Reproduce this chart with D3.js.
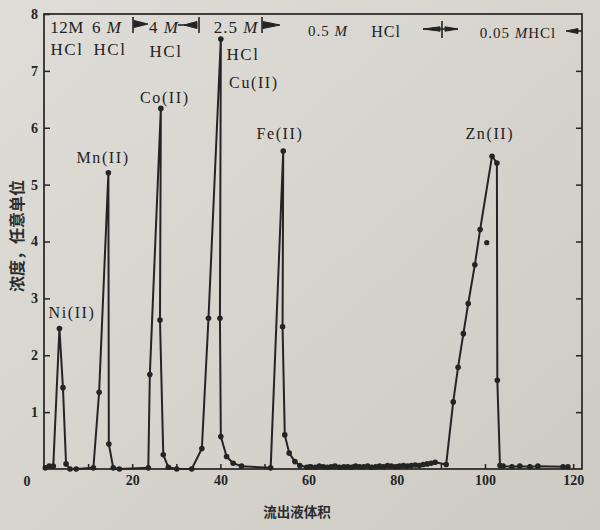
<!DOCTYPE html>
<html><head><meta charset="utf-8">
<script src="https://cdn.jsdelivr.net/npm/d3@7"></script>
<style>body{margin:0;background:#d8d6cf;}svg{display:block;}</style>
</head><body>
<svg id="c" width="600" height="530"></svg>
<script>
// ---- data ----
const volume = [
  0.3, 1.2, 2.1, 3.5, 4.3, 5.0, 5.9, 7.3,
  11.2, 12.5, 14.6, 14.7, 15.7, 17.1,
  23.65, 24.0, 26.5, 26.3, 27.05, 28.2, 30.1,
  33.5, 35.8, 37.3, 40.1, 39.9, 40.1, 41.4, 42.9, 44.8,
  51.4, 54.25, 54.1, 54.6, 55.6, 56.9, 58.0, 59.6,
  60.5, 61.5, 62.4, 63.3, 64.2, 65.1, 66.0, 67.0, 68.0, 68.9, 69.8, 70.7, 71.6, 72.5, 73.4, 74.3,
  75.2, 76.1, 77.0, 77.9, 78.8, 79.7, 80.6, 81.5, 82.4, 83.3, 84.2, 85.1, 86.0, 86.9, 87.8, 88.7,
  91.2, 92.8, 93.9, 95.1, 96.2, 97.7, 98.9, 101.6, 102.7, 102.8, 103.4,
  104.1, 106.1, 107.9, 110.2, 112.0, 117.7, 118.8
];
const concentration = [
  0.02, 0.05, 0.05, 2.47, 1.43, 0.09, 0.0, 0.0,
  0.02, 1.35, 5.21, 0.44, 0.02, 0.0,
  0.02, 1.66, 6.34, 2.62, 0.25, 0.03, 0.0,
  0.0, 0.36, 2.65, 7.56, 2.65, 0.57, 0.22, 0.10, 0.05,
  0.02, 5.59, 2.50, 0.60, 0.28, 0.13, 0.06, 0.03,
  0.04, 0.03, 0.05, 0.04, 0.03, 0.04, 0.05, 0.03, 0.04, 0.04, 0.03, 0.05, 0.04, 0.04, 0.05, 0.03,
  0.04, 0.05, 0.04, 0.06, 0.05, 0.04, 0.05, 0.06, 0.05, 0.06, 0.07, 0.06, 0.08, 0.09, 0.10, 0.12,
  0.08, 1.18, 1.79, 2.38, 2.91, 3.59, 4.21, 5.50, 5.38, 1.56, 0.06,
  0.05, 0.04, 0.05, 0.04, 0.05, 0.04, 0.04
];
const strayVolume = [100.4];
const strayConcentration = [3.98];
const peakNames = ["Ni(II)", "Mn(II)", "Co(II)", "Cu(II)", "Fe(II)", "Zn(II)"];
const peakLabelVolume = [6.35, 13.4, 27.4, 47.6, 53.5, 101.1];
const peakLabelConc = [2.65, 5.38, 6.43, 6.7, 5.8, 5.8];
const yTickValues = [1, 2, 3, 4, 5, 6, 7, 8];
const xTickValues = [10, 20, 30, 40, 50, 60, 70, 80, 90, 100, 110, 120];
const xTickLabels = [20, 40, 60, 80, 100, 120];
const yTitle = "浓度，任意单位";
const xTitle = "流出液体积";

// ---- drawing ----
const svg = d3.select("#c");
const defs = svg.append("defs");
const g0 = defs.append("linearGradient").attr("id","bg").attr("x1","0").attr("y1","0").attr("x2","1").attr("y2","1");
g0.append("stop").attr("offset","0").attr("stop-color","#dfddd7");
g0.append("stop").attr("offset","1").attr("stop-color","#cecbc4");
svg.append("rect").attr("width",600).attr("height",530).attr("fill","url(#bg)");

const ink = "#242424";
const x = d3.scaleLinear().domain([0, 122]).range([44, 582]);
const y = d3.scaleLinear().domain([0, 8]).range([469, 14]);
const serif = "'Liberation Serif','DejaVu Serif',serif";

// frame
svg.append("rect").attr("x", x(0)).attr("y", y(8)).attr("width", x(122)-x(0)).attr("height", y(0)-y(8))
  .attr("fill","none").attr("stroke",ink).attr("stroke-width",1.7);

// axes
const ax = svg.append("g").attr("transform",`translate(${x(0)},0)`)
  .call(d3.axisLeft(y).tickValues(yTickValues).tickSizeInner(-6).tickSizeOuter(0).tickPadding(6));
const axR = svg.append("g").attr("transform",`translate(${x(122)},0)`)
  .call(d3.axisRight(y).tickValues(yTickValues.slice(0,7)).tickSizeInner(-6).tickSizeOuter(0).tickFormat(""));
const axB = svg.append("g").attr("transform",`translate(0,${y(0)})`)
  .call(d3.axisBottom(x).tickValues(xTickValues).tickSizeInner(-5).tickSizeOuter(0).tickPadding(6)
    .tickFormat(d => xTickLabels.includes(d) ? d : ""));
[ax, axR, axB].forEach(a => {
  a.select(".domain").remove();
  a.selectAll("line").attr("stroke", ink).attr("stroke-width", 1.5);
  a.selectAll("text").attr("font-family", serif).attr("font-weight","bold").attr("font-size", 14).attr("fill", ink);
});
svg.append("text").attr("x", 27).attr("y", 486).attr("text-anchor","middle")
  .attr("font-family", serif).attr("font-weight","bold").attr("font-size",14).attr("fill",ink).text("0");

// axis titles
svg.append("text").attr("transform","translate(23,236) rotate(-90)").attr("text-anchor","middle")
  .attr("font-family","'Noto Sans CJK SC',sans-serif").attr("font-weight","bold").attr("font-size",16)
  .attr("fill","#2c2c2c").text(yTitle);
svg.append("text").attr("x", 297).attr("y", 517).attr("text-anchor","middle")
  .attr("font-family","'Noto Sans CJK SC',sans-serif").attr("font-weight","bold").attr("font-size",13.5)
  .attr("fill","#2c2c2c").text(xTitle);

// curve
const pts = volume.map((v,i) => [v, concentration[i]]);
svg.append("path").datum(pts)
  .attr("d", d3.line().x(d => x(d[0])).y(d => y(d[1])))
  .attr("fill","none").attr("stroke",ink).attr("stroke-width",2).attr("stroke-linejoin","round");
svg.append("g").selectAll("circle").data(pts).join("circle")
  .attr("cx", d => x(d[0])).attr("cy", d => y(d[1])).attr("r", 2.8).attr("fill", ink);
svg.append("g").selectAll("circle").data(strayVolume.map((v,i)=>[v,strayConcentration[i]])).join("circle")
  .attr("cx", d => x(d[0])).attr("cy", d => y(d[1])).attr("r", 2.6).attr("fill", ink);

// peak labels
svg.append("g").selectAll("text").data(peakNames).join("text")
  .attr("x", (d,i) => x(peakLabelVolume[i])).attr("y", (d,i) => y(peakLabelConc[i]))
  .attr("text-anchor","middle").attr("font-family", serif).attr("font-size", 16)
  .attr("letter-spacing", 1.6).attr("fill", "#222").text(d => d);

// eluent annotations along the top
const ann = svg.append("g").attr("font-family", serif).attr("fill", "#222");
function conc(cx, cy, num, size, rest) {
  const t = ann.append("text").attr("x", cx).attr("y", cy).attr("text-anchor","middle")
    .attr("font-size", size).attr("letter-spacing", 1);
  t.append("tspan").text(num);
  t.append("tspan").attr("font-style","italic").text(" M");
  if (rest) t.append("tspan").attr("font-style","italic").text(rest);
  return t;
}
ann.append("text").attr("x", 67).attr("y", 33).attr("text-anchor","middle").attr("font-size",17).attr("letter-spacing",0.5).text("12M");
conc(107, 33, "6", 17);
conc(164, 33, "4", 17);
conc(236, 33, "2.5", 17);
conc(328, 36, "0.5", 15);
ann.append("text").attr("x", 386).attr("y", 37).attr("text-anchor","middle").attr("font-size",16).attr("letter-spacing",1).text("HCl");
const t005 = ann.append("text").attr("x", 518).attr("y", 38).attr("text-anchor","middle").attr("font-size",15).attr("letter-spacing",1);
t005.append("tspan").text("0.05 ");
t005.append("tspan").attr("font-style","italic").text("M");
t005.append("tspan").text("HCl");
[[67,55],[110,55],[166,57],[243,60]].forEach(p => ann.append("text").attr("x",p[0]).attr("y",p[1])
  .attr("text-anchor","middle").attr("font-size",17).attr("letter-spacing",1.5).text("HCl"));

// boundary markers / arrows
const mk = svg.append("g").attr("stroke", ink).attr("stroke-width", 1.6).attr("fill", ink);
function bar(px, y1, y2){ mk.append("line").attr("x1",px).attr("x2",px).attr("y1",y1).attr("y2",y2); }
function wedge(base, tip, cy, h){ mk.append("path").attr("stroke-width",1).attr("d",`M${base},${cy-h}L${tip},${cy}L${base},${cy+h}Z`); }
function hline(x1,x2,cy){ mk.append("line").attr("x1",x1).attr("x2",x2).attr("y1",cy).attr("y2",cy); }
bar(133, 17, 33); wedge(134, 148, 24, 3.5);
hline(178, 190, 25); wedge(197, 184, 25, 3.5); bar(199, 17, 33);
bar(262, 17, 33); wedge(263, 280, 25, 3.5);
hline(423, 458, 29); wedge(440, 423, 29, 2.2); wedge(445, 458, 29, 2.2); bar(442, 21, 38);
wedge(578, 566, 31, 2.5); hline(576, 582, 31);
</script>
</body></html>
